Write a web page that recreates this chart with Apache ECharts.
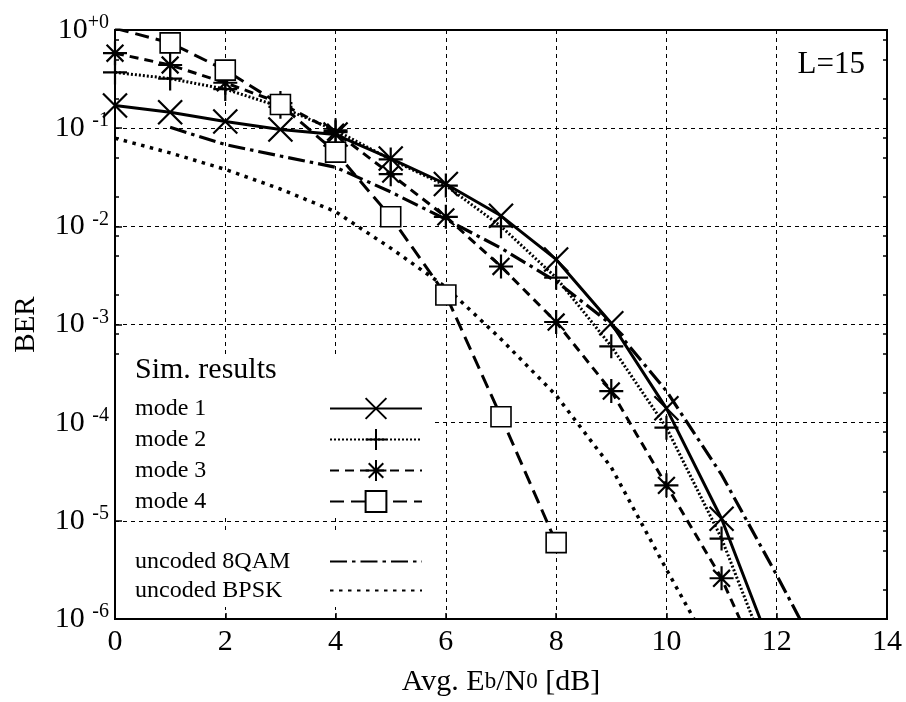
<!DOCTYPE html>
<html>
<head>
<meta charset="utf-8">
<script src="https://cdn.jsdelivr.net/npm/echarts@6/dist/echarts.min.js"></script>
<style>
  html, body { margin: 0; padding: 0; background: #fff; }
  #chart { width: 906px; height: 702px; }
</style>
</head>
<body>
<div id="chart"></div>
<script>
// Eb/N0 [dB] and BER values
const modeX = [0, 1, 2, 3, 4, 5, 6, 7, 8, 9, 10, 11]

const mode1X = [...modeX, 11.7]
const mode1Ber = [0.17, 0.145, 0.117, 0.097, 0.086, 0.049, 0.027, 0.0128, 0.0046, 1.03e-3, 1.4e-4, 1.05e-5, 1e-6]

const mode2X = [...modeX, 11.57]
const mode2Ber = [0.37, 0.32, 0.25, 0.165, 0.095, 0.048, 0.026, 0.0100, 0.0030, 6.0e-4, 8.9e-5, 6.6e-6, 1e-6]

const mode3X = [...modeX, 11.33]
const mode3Ber = [0.58, 0.44, 0.29, 0.18, 0.091, 0.034, 0.0125, 0.0039, 1.06e-3, 2.1e-4, 2.3e-5, 2.6e-6, 1e-6]

const mode4X = [0, 1, 2, 3, 4, 5, 6, 7, 8]
const mode4Ber = [1.04, 0.74, 0.39, 0.174, 0.057, 0.0125, 0.002, 1.15e-4, 6.0e-6]

const qamX = [1, 2, 3, 4, 5, 6, 7, 8, 9, 10, 11, 12, 12.42]
const qamBer = [0.102, 0.068, 0.052, 0.040, 0.0224, 0.0118, 0.0060, 0.00275, 1.0e-3, 2.1e-4, 2.95e-5, 2.8e-6, 1e-6]

const bpskX = [0, 1, 2, 3, 4, 5, 6, 7, 8, 9, 10, 10.5]
const bpskBer = [0.079, 0.056, 0.038, 0.024, 0.0141, 0.0060, 0.0024, 7.1e-4, 1.9e-4, 3.5e-5, 3.2e-6, 1e-6]

const xTicks = [0, 2, 4, 6, 8, 10, 12, 14]
const minorMant = [2, 5, 8]
const minorTicks = []
for (let e = -6; e < 0; e++) {
  minorMant.forEach(m => minorTicks.push(m * Math.pow(10, e)))
}

const FONT = 'Liberation Serif'
const crossPath = 'path://M0,0L20,20M20,0L0,20'
const plusPath = 'path://M10,0L10,20M1,10L19,10'
const starPath = 'path://M10,0L10,20M0,10L20,10M3,3L17,17M17,3L3,17'

// markers only on the simulated (integer) points
function pts(xs, ys) {
  return xs.map((x, i) => Number.isInteger(x) ? [x, ys[i]] : { value: [x, ys[i]], symbol: 'none' })
}

function lineSeries(name, xs, ys, dash, width, symbol, size, itemStyle, showSymbol = true) {
  return {
    name,
    type: 'line',
    data: pts(xs, ys),
    symbol,
    symbolSize: size,
    showSymbol,
    lineStyle: { color: '#000', width, type: dash },
    itemStyle,
    clip: true,
    z: 3,
  }
}

const strokeOnly = { color: '#000', borderColor: '#000', borderWidth: 2.2 }
const hidden = { color: 'rgba(0,0,0,0)', borderColor: 'rgba(0,0,0,0)', borderWidth: 0 }

const option = {
  animation: false,
  backgroundColor: '#fff',
  textStyle: { fontFamily: FONT, color: '#000' },
  grid: {
    left: 115, right: 19, top: 30, bottom: 79,
    show: true, borderColor: '#000', borderWidth: 2,
  },
  xAxis: {
    type: 'value',
    min: 0, max: 14, interval: 2,
    axisLine: { lineStyle: { color: '#000', width: 2 } },
    axisTick: { inside: true, length: 6, lineStyle: { color: '#000', width: 1.5 } },
    splitLine: { show: true, lineStyle: { color: '#000', width: 1, type: [4, 4] } },
    axisLabel: {
      fontSize: 30, fontFamily: FONT, color: '#000', margin: 8,
      formatter: v => xTicks.includes(v) ? String(v) : '',
    },
    name: 'Avg. E{s|b}/N{s|0} [dB]',
    nameLocation: 'middle',
    nameGap: 48,
    nameTextStyle: {
      fontSize: 30, fontFamily: FONT, color: '#000',
      rich: { s: { fontSize: 23, fontFamily: FONT, color: '#000' } },
    },
  },
  yAxis: [
    {
      type: 'log',
      logBase: 10,
      min: 1e-6, max: 1,
      splitNumber: 6,
      position: 'left',
      axisLine: { lineStyle: { color: '#000', width: 2 } },
      axisTick: { inside: true, length: 7, lineStyle: { color: '#000', width: 1.5 } },
      splitLine: { show: true, lineStyle: { color: '#000', width: 1, type: [4, 4] } },
      axisLabel: {
        fontSize: 30, fontFamily: FONT, color: '#000', margin: 6,
        formatter: v => {
          const e = Math.round(Math.log10(v))
          return e === 0 ? '10{s|+0}' : '10 {s|' + e + '}'
        },
        rich: { s: { fontSize: 20, fontFamily: FONT, color: '#000', padding: [0, 0, 14, 0] } },
      },
      name: 'BER',
      nameLocation: 'middle',
      nameRotate: 90,
      nameGap: 74,
      nameTextStyle: { fontSize: 29, fontFamily: FONT, color: '#000' },
    },
    {
      type: 'log', logBase: 10, min: 1e-6, max: 1, position: 'left',
      axisLine: { show: false },
      axisLabel: { show: false },
      splitLine: { show: false },
      axisTick: { inside: true, length: 4, customValues: minorTicks, lineStyle: { color: '#000', width: 1.5 } },
    },
    {
      type: 'log', logBase: 10, min: 1e-6, max: 1, position: 'right',
      axisLine: { show: false },
      axisLabel: { show: false },
      splitLine: { show: false },
      axisTick: { inside: true, length: 4, customValues: minorTicks, lineStyle: { color: '#000', width: 1.5 } },
    },
  ],
  legend: [
    {
      orient: 'vertical',
      left: 116, top: 357,
      padding: [36, 8, 0, 19],
      backgroundColor: '#fff',
      align: 'right',
      itemGap: 0,
      itemWidth: 92, itemHeight: 26,
      data: ['mode 1', 'mode 2', 'mode 3', 'mode 4'],
      formatter: n => '{a|' + n + '}',
      textStyle: {
        width: 190, fontSize: 24, lineHeight: 31, fontFamily: FONT, color: '#000',
        rich: { a: { align: 'left', fontSize: 24, lineHeight: 31, fontFamily: FONT, color: '#000' } },
      },
    },
    {
      orient: 'vertical',
      left: 116, top: 530,
      padding: [17, 8, 2, 19],
      backgroundColor: '#fff',
      align: 'right',
      itemGap: 0,
      itemWidth: 92, itemHeight: 26,
      data: ['uncoded 8QAM', 'uncoded BPSK'],
      formatter: n => '{a|' + n + '}',
      textStyle: {
        width: 190, fontSize: 24, lineHeight: 29, fontFamily: FONT, color: '#000',
        rich: { a: { align: 'left', fontSize: 24, lineHeight: 29, fontFamily: FONT, color: '#000' } },
      },
    },
  ],
  graphic: [
    {
      type: 'text', left: 135, top: 355, z: 100,
      style: { text: 'Sim. results', font: '30px "Liberation Serif"', fill: '#000' },
    },
    {
      type: 'text', right: 41, top: 49, z: 100,
      style: { text: 'L=15', font: '31px "Liberation Serif"', fill: '#000', backgroundColor: '#fff' },
    },
  ],
  series: [
    lineSeries('mode 1', mode1X, mode1Ber, 'solid', 3, crossPath, 24, strokeOnly),
    lineSeries('mode 2', mode2X, mode2Ber, [2, 2], 3, plusPath, 24, strokeOnly),
    lineSeries('mode 3', mode3X, mode3Ber, [9, 6], 3, starPath, 24, strokeOnly),
    lineSeries('mode 4', mode4X, mode4Ber, [14, 7], 3, 'rect', 20, { color: '#fff', borderColor: '#000', borderWidth: 1.6 }),
    lineSeries('uncoded 8QAM', qamX, qamBer, [17, 5, 3.5, 5], 3.2, 'circle', 2, hidden, false),
    lineSeries('uncoded BPSK', bpskX, bpskBer, [3.5, 5.5], 3.5, 'circle', 2, hidden, false),
  ],
}

const myChart = echarts.init(document.getElementById('chart'))
myChart.setOption(option)
</script>
</body>
</html>
